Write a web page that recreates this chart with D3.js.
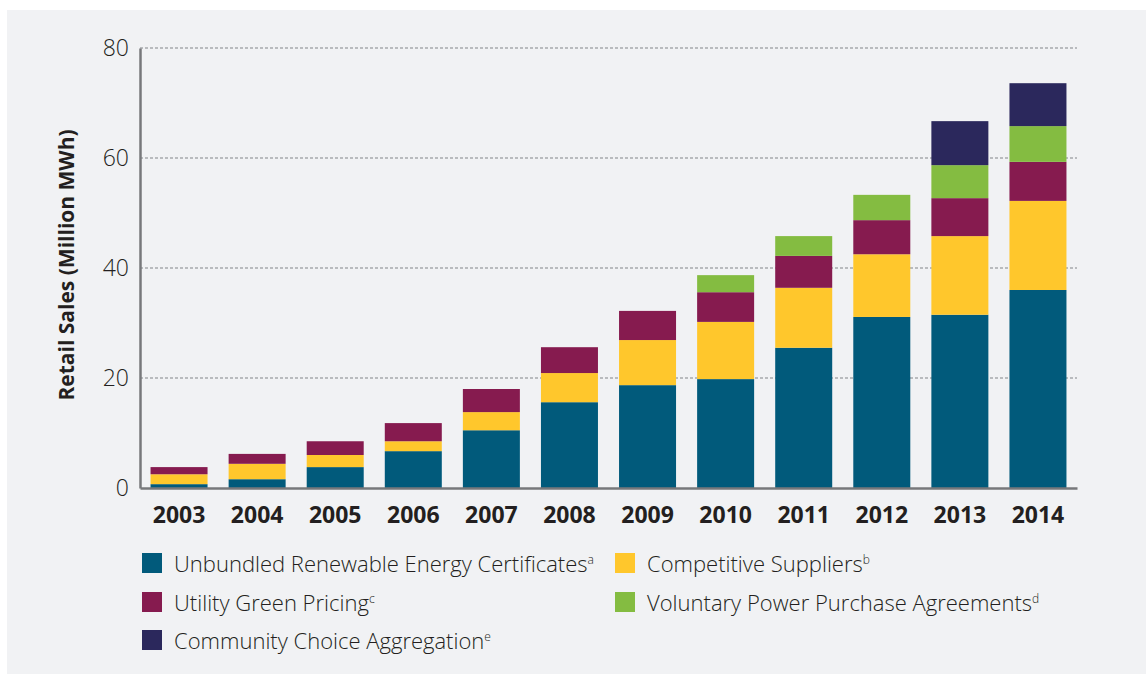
<!DOCTYPE html>
<html lang="en">
<head>
    <meta charset="utf-8">
    <title>Retail Sales by green power market</title>
    <script src="https://d3js.org/d3.v7.min.js"></script>
    <style>
        body { margin: 0; background: #fff; }
        text { font-family: "Open Sans", sans-serif; fill: #231f20; }
        .grid line { stroke: #a7a9ac; stroke-width: 1.5px; stroke-dasharray: 3,2; }
    </style>
</head>
<body>
<script type="text/javascript">

    var w = 1146;
    var h = 674;

    // data (million MWh)
    var years = ["2003", "2004", "2005", "2006", "2007", "2008", "2009", "2010", "2011", "2012", "2013", "2014"];
    var unbundledRECs = [0.7, 1.6, 3.8, 6.7, 10.5, 15.6, 18.7, 19.8, 25.5, 31.1, 31.5, 36.0];
    var competitiveSuppliers = [1.8, 2.8, 2.2, 1.8, 3.3, 5.3, 8.2, 10.4, 10.9, 11.4, 14.3, 16.2];
    var utilityGreenPricing = [1.3, 1.8, 2.5, 3.3, 4.2, 4.7, 5.3, 5.4, 5.8, 6.2, 6.9, 7.1];
    var voluntaryPPAs = [0, 0, 0, 0, 0, 0, 0, 3.1, 3.6, 4.6, 6.0, 6.5];
    var communityChoice = [0, 0, 0, 0, 0, 0, 0, 0, 0, 0, 8.0, 7.8];
    var yTicks = [0, 20, 40, 60, 80];

    var seriesNames = ["Unbundled Renewable Energy Certificates", "Competitive Suppliers",
        "Utility Green Pricing", "Voluntary Power Purchase Agreements", "Community Choice Aggregation"];
    var seriesNotes = ["a", "b", "c", "d", "e"];
    var seriesKeys = ["recs", "comp", "ugp", "ppa", "cca"];
    var colors = ["#015a7b", "#ffc72c", "#861b4f", "#84bc41", "#2b285c"];

    var table = years.map(function (yr, i) {
        return {
            year: yr, recs: unbundledRECs[i], comp: competitiveSuppliers[i],
            ugp: utilityGreenPricing[i], ppa: voluntaryPPAs[i], cca: communityChoice[i]
        };
    });

    var svg = d3.select("body")
            .append("svg")
            .attr("width", w)
            .attr("height", h);

    // grey panel
    svg.append("rect")
            .attr("x", 7).attr("y", 10)
            .attr("width", w - 7).attr("height", h - 10)
            .attr("fill", "#f1f2f4");

    var plotLeft = 140, plotRight = 1077, plotTop = 48, plotBottom = 488;

    var x = d3.scaleBand()
            .domain(years)
            .range([plotLeft, plotRight])
            .paddingInner(0.27)
            .paddingOuter(0.135);

    var y = d3.scaleLinear()
            .domain([0, 80])
            .range([plotBottom, plotTop]);

    // dotted gridlines
    svg.append("g")
            .attr("class", "grid")
            .selectAll("line")
            .data(yTicks.filter(function (d) { return d > 0; }))
            .enter()
            .append("line")
            .attr("x1", plotLeft).attr("x2", plotRight)
            .attr("y1", function (d) { return y(d); })
            .attr("y2", function (d) { return y(d); });

    var layers = d3.stack().keys(seriesKeys)(table);

    svg.append("g")
            .selectAll("g")
            .data(layers)
            .enter()
            .append("g")
            .attr("fill", function (d, i) { return colors[i]; })
            .selectAll("rect")
            .data(function (d) { return d.filter(function (p) { return p[1] > p[0]; }); })
            .enter()
            .append("rect")
            .attr("x", function (d) { return x(d.data.year); })
            .attr("width", x.bandwidth())
            .attr("y", function (d) { return y(d[1]); })
            .attr("height", function (d) { return y(d[0]) - y(d[1]); });

    // y axis
    var yAxis = svg.append("g")
            .attr("transform", "translate(" + plotLeft + ",0)")
            .call(d3.axisLeft(y).tickValues(yTicks).tickSize(0).tickPadding(11));
    yAxis.select(".domain").attr("stroke", "#77787b").attr("stroke-width", 2.5);
    yAxis.selectAll("text")
            .style("font-size", "23px")
            .style("font-weight", 300)
            .style("font-family", "'Open Sans', sans-serif")
            .attr("fill", "#2b2829");

    // x axis
    var xAxis = svg.append("g")
            .attr("transform", "translate(0," + plotBottom + ")")
            .call(d3.axisBottom(x).tickSize(0).tickPadding(19));
    xAxis.select(".domain").attr("stroke", "#77787b").attr("stroke-width", 2.5);
    xAxis.selectAll("text")
            .style("font-size", "23px")
            .style("font-weight", 700)
            .style("font-family", "'Open Sans', sans-serif")
            .attr("fill", "#231f20");

    // y title
    svg.append("text")
            .attr("transform", "translate(74,265) rotate(-90)")
            .attr("text-anchor", "middle")
            .style("font-size", "21px")
            .style("font-weight", 700)
            .text("Retail Sales (Million MWh)");

    // legend
    var legendPos = [[142, 563], [615, 563], [142, 602], [615, 602], [142, 640]];
    var legend = svg.append("g")
            .selectAll("g")
            .data(seriesNames)
            .enter()
            .append("g")
            .attr("transform", function (d, i) {
                return "translate(" + legendPos[i][0] + "," + legendPos[i][1] + ")";
            });

    legend.append("rect")
            .attr("x", 0).attr("y", -10)
            .attr("width", 20).attr("height", 20)
            .attr("fill", function (d, i) { return colors[i]; });

    var lt = legend.append("text")
            .attr("x", 32)
            .attr("y", 9)
            .style("font-size", "22px")
            .style("font-weight", 300)
            .attr("fill", "#2b2829")
            .text(function (d) { return d; });
    lt.append("tspan")
            .attr("dy", -8)
            .style("font-size", "12px")
            .text(function (d, i) { return seriesNotes[i]; });

</script>
</body>
</html>
